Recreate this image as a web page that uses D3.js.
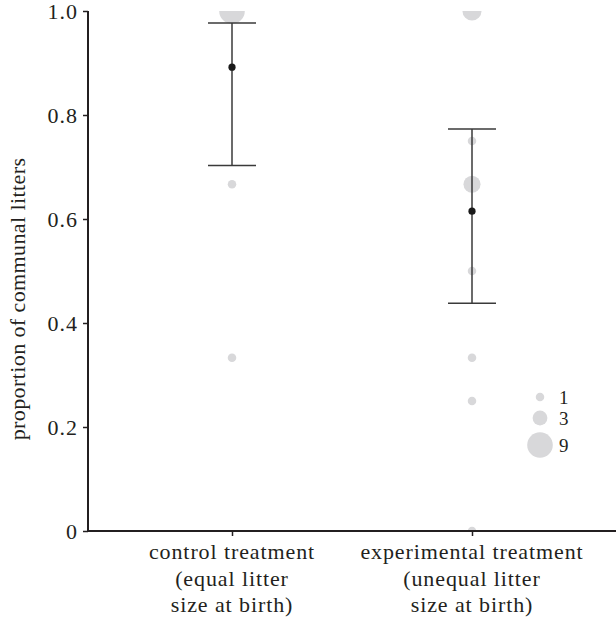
<!DOCTYPE html>
<html><head><meta charset="utf-8">
<script src="https://cdn.jsdelivr.net/npm/d3@7"></script>
<style>body{margin:0;background:#fff}svg{display:block}</style>
</head><body><svg id="c" width="616" height="625"></svg>
<script>
const categories = ["control", "experimental"];
const categoryLabels = [["control treatment","(equal litter","size at birth)"],["experimental treatment","(unequal litter","size at birth)"]];
const yTicks = [0, 0.2, 0.4, 0.6, 0.8, 1.0];
// raw observations: proportion, number of females
const controlPoints = [[1.0, 9], [0.667, 1], [0.333, 1]];
const experimentalPoints = [[1.0, 5], [0.75, 1], [0.667, 4], [0.5, 1], [0.333, 1], [0.25, 1], [0, 1]];
// model estimates: mean, lower CI, upper CI
const means = [0.892, 0.615];
const lowerCI = [0.703, 0.438];
const upperCI = [0.977, 0.773];
const legendSizes = [1, 3, 9];

const FONT = '"Liberation Serif", "Times New Roman", Times, serif';
const INK = "#231f20";
const svg = d3.select("#c");
const mLeft = 88, mRight = 616, mTop = 11, mBottom = 531;
const y = d3.scaleLinear().domain([0, 1]).range([mBottom, mTop]);
const x = d3.scalePoint().domain(categories).range([232, 472]);
const r = d3.scaleSqrt().domain([0, 9]).range([0, 12.8]);

svg.append("defs").append("clipPath").attr("id","clip")
  .append("rect").attr("x", mLeft).attr("y", mTop).attr("width", mRight-mLeft).attr("height", mBottom-mTop);

const pts = svg.append("g").attr("clip-path","url(#clip)");
[controlPoints, experimentalPoints].forEach((arr, i) => {
  pts.selectAll(null).data(arr).enter().append("circle")
    .attr("cx", x(categories[i])).attr("cy", d => y(d[0])).attr("r", d => r(d[1]))
    .attr("fill", "#d8d8da");
});

// error bars
const eb = svg.append("g").attr("stroke", "#3a3a3a").attr("stroke-width", 1.5);
categories.forEach((c, i) => {
  const cx = x(c);
  eb.append("line").attr("x1", cx).attr("x2", cx).attr("y1", y(lowerCI[i])).attr("y2", y(upperCI[i]));
  eb.append("line").attr("x1", cx-24).attr("x2", cx+24).attr("y1", y(lowerCI[i])).attr("y2", y(lowerCI[i]));
  eb.append("line").attr("x1", cx-24).attr("x2", cx+24).attr("y1", y(upperCI[i])).attr("y2", y(upperCI[i]));
  svg.append("circle").attr("cx", cx).attr("cy", y(means[i])).attr("r", 3.6).attr("fill", "#1a1a1a");
});

// axes
const ya = svg.append("g").attr("transform", `translate(${mLeft},0)`)
  .call(d3.axisLeft(y).tickValues(yTicks).tickSize(5).tickPadding(5).tickFormat(d => d === 0 ? "0" : d3.format(".1f")(d)));
ya.attr("font-family", FONT).attr("font-size", 22);
ya.select(".domain").attr("stroke", INK).attr("stroke-width", 2).attr("d", `M0,${mTop}V${mBottom}`);
ya.selectAll(".tick line").attr("stroke", INK).attr("stroke-width", 1.5);
ya.selectAll(".tick text").attr("fill", INK).attr("font-family", FONT).attr("font-size", 22).attr("letter-spacing", 1);

const xa = svg.append("g").attr("transform", `translate(0,${mBottom})`)
  .call(d3.axisBottom(x).tickSize(5).tickFormat(""));
xa.select(".domain").attr("stroke", INK).attr("stroke-width", 2).attr("d", `M${mLeft},0H${mRight}`);
xa.selectAll(".tick line").attr("stroke", INK).attr("stroke-width", 1.5);

categories.forEach((c, i) => {
  const t = svg.append("text").attr("text-anchor", "middle").attr("font-size", 22)
    .attr("font-family", FONT).attr("fill", INK).attr("letter-spacing", 0.9);
  categoryLabels[i].forEach((l, j) => {
    t.append("tspan").attr("x", x(c)).attr("y", 559 + j * 26.5).text(l);
  });
});

svg.append("text").attr("transform", "translate(25,299) rotate(-90)").attr("text-anchor", "middle")
  .attr("font-family", FONT).attr("fill", INK).attr("font-size", 22).attr("letter-spacing", 0.4)
  .text("proportion of communal litters");

// legend
const legY = [397, 418, 445];
legendSizes.forEach((s, i) => {
  svg.append("circle").attr("cx", 540).attr("cy", legY[i]).attr("r", r(s)).attr("fill", "#d8d8da");
  svg.append("text").attr("x", 559).attr("y", legY[i] + 6.5).attr("font-size", 19)
    .attr("font-family", FONT).attr("fill", INK).text(s);
});
</script></body></html>
